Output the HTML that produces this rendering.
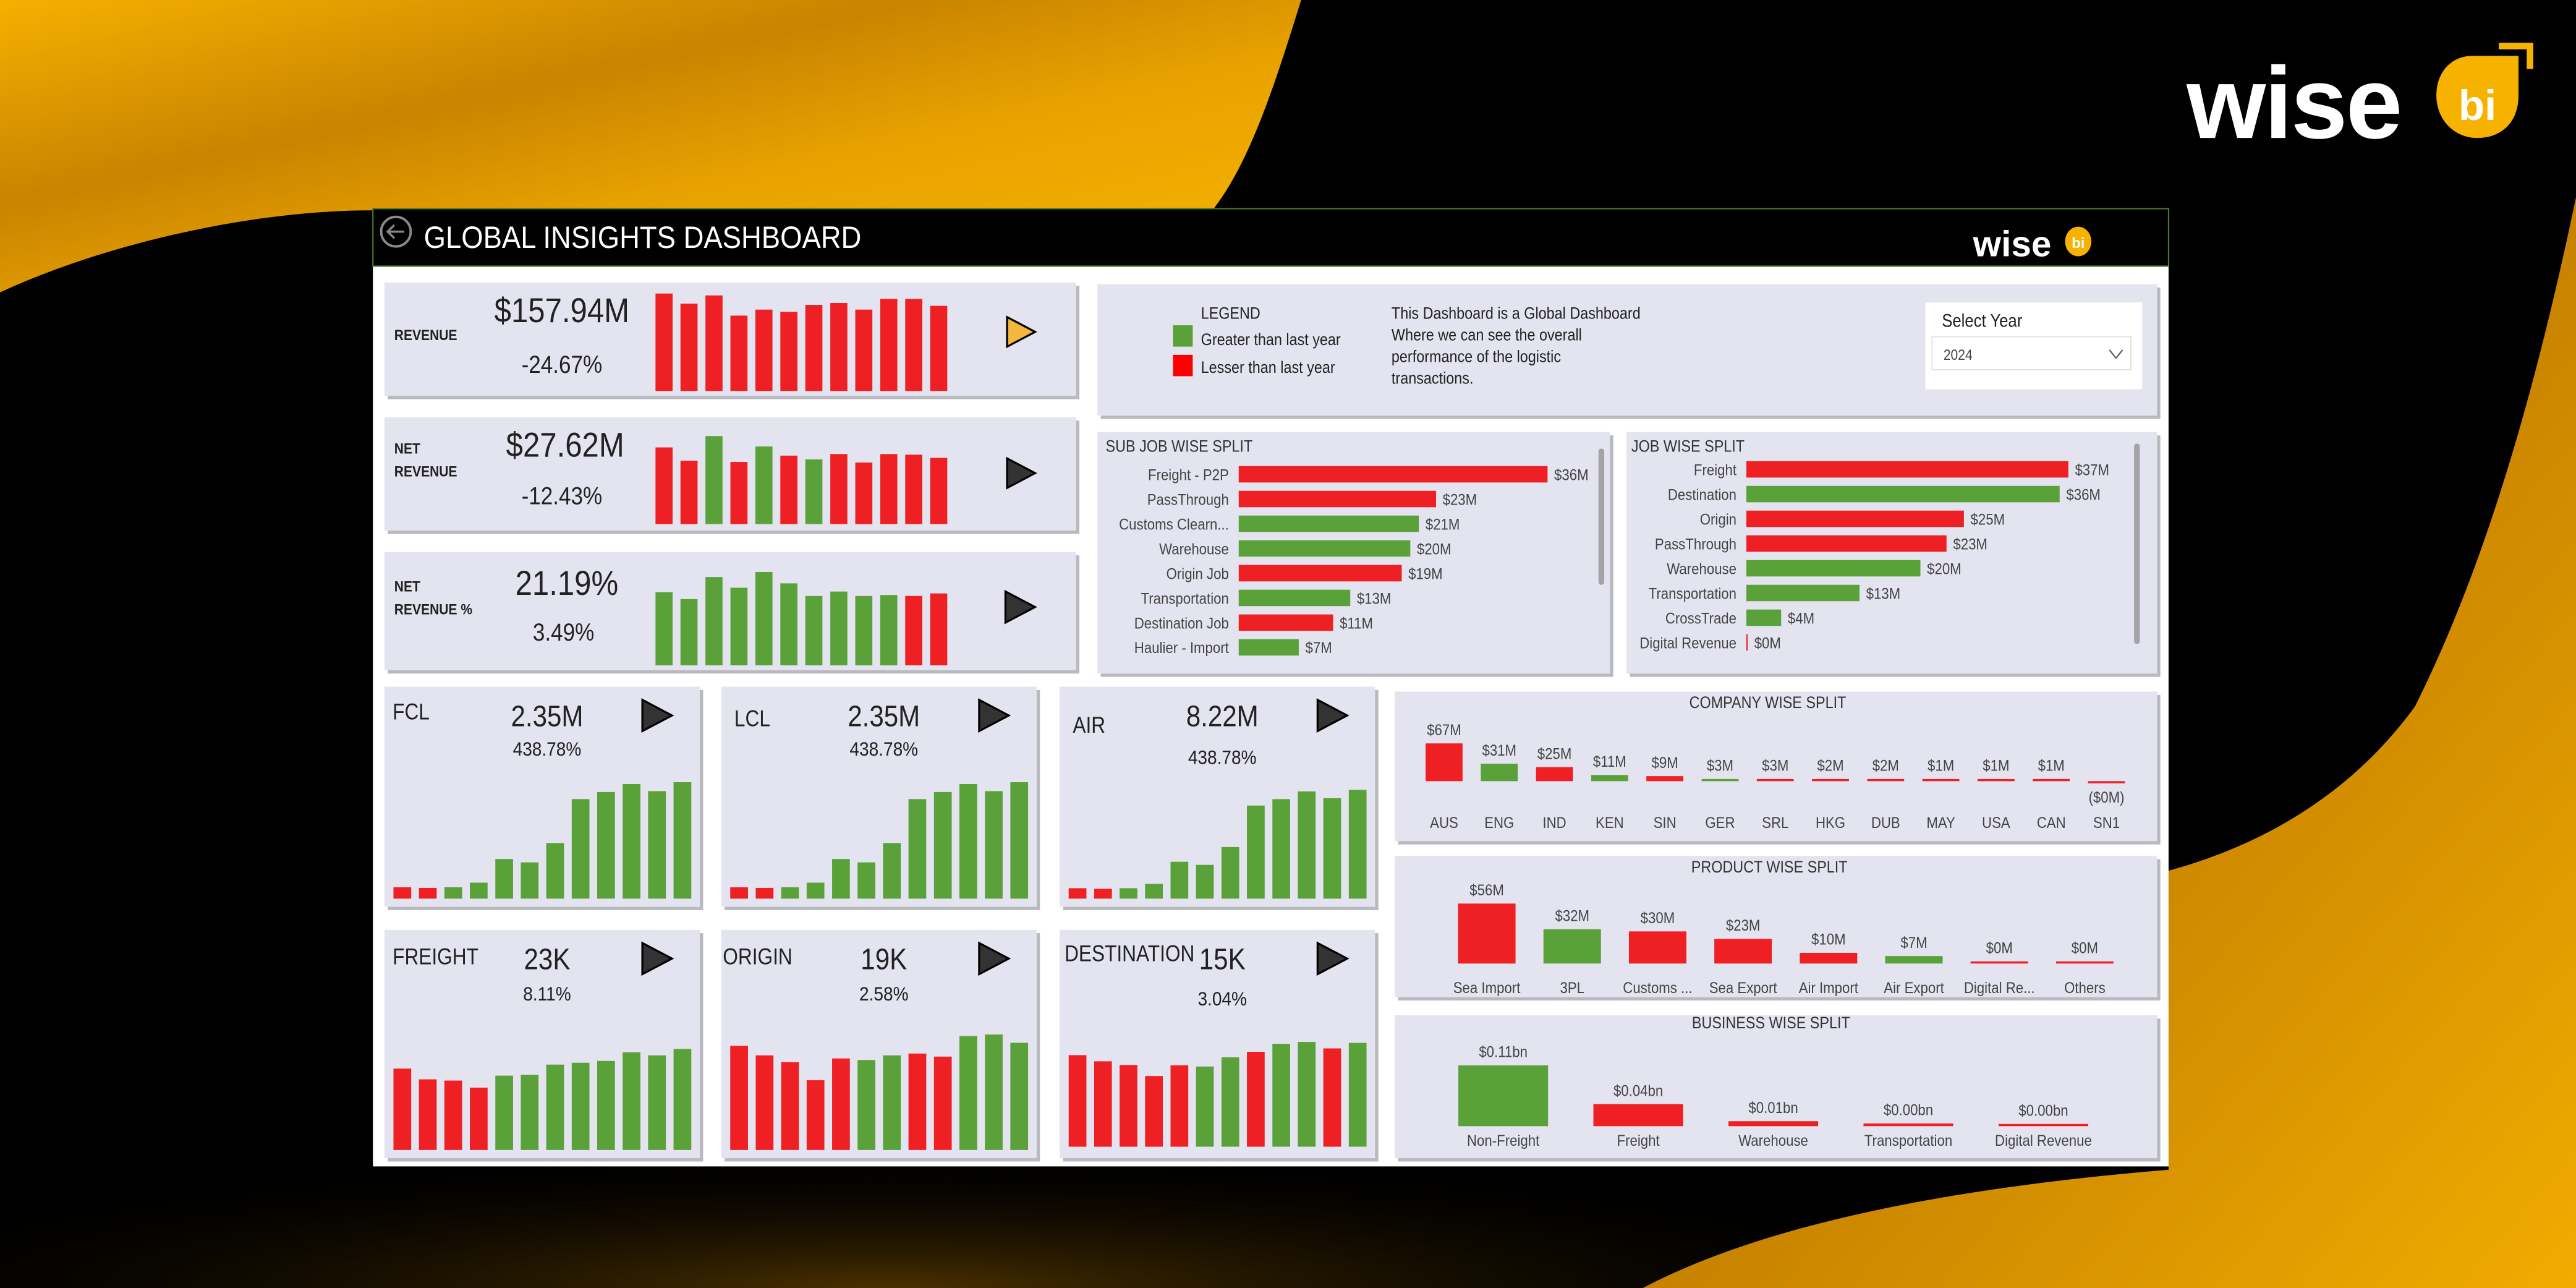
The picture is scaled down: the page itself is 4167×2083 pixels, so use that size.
<!DOCTYPE html>
<html><head><meta charset="utf-8">
<style>
html,body{margin:0;padding:0;background:#000;}
svg{display:block;}
text{font-family:"Liberation Sans",sans-serif;}
</style></head>
<body>
<svg id="root" xmlns="http://www.w3.org/2000/svg" width="4167" height="2083" viewBox="0 0 1568 784" preserveAspectRatio="none">
<defs>
<linearGradient id="gTL" x1="0" y1="0" x2="1" y2="1">
<stop offset="0" stop-color="#f5b000"/><stop offset="0.35" stop-color="#c98400"/><stop offset="0.6" stop-color="#e9a300"/><stop offset="1" stop-color="#f7b500"/></linearGradient>
<linearGradient id="gBR" x1="0" y1="0" x2="1" y2="1">
<stop offset="0" stop-color="#f5b100"/><stop offset="0.45" stop-color="#c27d00"/><stop offset="1" stop-color="#f0ac00"/></linearGradient>
<radialGradient id="gB" cx="0.45" cy="1" r="0.6">
<stop offset="0" stop-color="#4a3000"/><stop offset="1" stop-color="#000" stop-opacity="0"/></radialGradient>
</defs>
<rect width="1568" height="784" fill="#000"/>
<rect x="0" y="640" width="1200" height="144" fill="url(#gB)"/>
<path d="M0,0 L792,0 C775,55 760,100 738,128 L227,128 C150,128 60,150 0,178 Z" fill="url(#gTL)"/>
<path d="M1568,120 C1545,230 1515,340 1470,430 C1430,485 1375,515 1320,530 L1320,712 C1200,722 1080,742 1000,784 L1568,784 Z" fill="url(#gBR)"/>

<g>
<text x="1331" y="84" font-weight="bold" font-size="62" fill="#fff" style="letter-spacing:-1px">wise</text>
<path d="M1505,34 L1533,34 L1533,58 C1533,75 1522,84 1508,84 C1494,84 1483,73 1483,58 C1483,44 1492,34 1505,34 Z" fill="#f7b200"/>
<text x="1508" y="73" text-anchor="middle" font-weight="bold" font-size="26" fill="#fff">bi</text>
<path d="M1521,28 L1540,28 L1540,42" fill="none" stroke="#f7b200" stroke-width="4"/>
</g>

<rect x="227" y="127" width="1093" height="583" fill="#fff"/>
<rect x="227" y="127" width="1093" height="35" fill="#000" stroke="#4a7a2a" stroke-width="0.8"/>
<circle cx="241" cy="141" r="9" fill="none" stroke="#888" stroke-width="1.5"/>
<path d="M246,141 L236,141 M240,137 L236,141 L240,145" fill="none" stroke="#888" stroke-width="1.3"/>
<text transform="translate(258,151) scale(0.9,1)" font-size="19" fill="#fff">GLOBAL INSIGHTS DASHBOARD</text>
<g>
<text x="1201" y="156" font-weight="bold" font-size="22" fill="#fff">wise</text>
<ellipse cx="1265" cy="147" rx="8" ry="9" fill="#f7b200"/>
<text x="1265" y="151" text-anchor="middle" font-weight="bold" font-size="9" fill="#fff">bi</text>
</g>

<g id="cards"></g>
<g id="content"></g>
</svg>

<script>
// ---------- DATA ----------
const kpiRevenueValues = [309,277,303,239,258,251,273,279,258,292,292,270];
const kpiRevenueColors = ['r','r','r','r','r','r','r','r','r','r','r','r'];
const kpiNetRevenueValues = [243,201,279,197,246,217,205,222,195,222,220,210];
const kpiNetRevenueColors = ['r','r','g','r','g','r','g','r','r','r','r','r'];
const kpiNetRevPctValues = [232,210,280,246,296,260,220,234,220,223,220,228];
const kpiNetRevPctColors = ['g','g','g','g','g','g','g','g','g','g','r','r'];

const fclValues = [37,35,37,52,129,118,181,324,347,373,350,379];
const fclColors = ['r','r','g','g','g','g','g','g','g','g','g','g'];
const lclValues = [37,35,37,52,129,118,181,324,347,373,350,379];
const lclColors = ['r','r','g','g','g','g','g','g','g','g','g','g'];
const airValues = [34,32,34,48,120,110,168,303,324,349,327,354];
const airColors = ['r','r','g','g','g','g','g','g','g','g','g','g'];
const freightValues = [265,230,226,203,242,245,278,284,290,318,308,329];
const freightColors = ['r','r','r','r','g','g','g','g','g','g','g','g'];
const originValues = [339,308,286,227,298,293,308,314,304,371,376,349];
const originColors = ['r','r','r','r','r','g','g','r','r','g','g','g'];
const destinationValues = [298,278,266,230,265,261,291,309,335,341,320,338];
const destinationColors = ['r','r','r','r','r','g','g','r','g','g','r','g'];

const subJobCategories = ['Freight - P2P','PassThrough','Customs Clearn...','Warehouse','Origin Job','Transportation','Destination Job','Haulier - Import'];
const subJobValues = [36,23,21,20,19,13,11,7];
const subJobLabels = ['$36M','$23M','$21M','$20M','$19M','$13M','$11M','$7M'];
const subJobColors = ['r','r','g','g','r','g','r','g'];

const jobCategories = ['Freight','Destination','Origin','PassThrough','Warehouse','Transportation','CrossTrade','Digital Revenue'];
const jobValues = [37,36,25,23,20,13,4,0];
const jobLabels = ['$37M','$36M','$25M','$23M','$20M','$13M','$4M','$0M'];
const jobColors = ['r','g','r','r','g','g','g','r'];

const companyCategories = ['AUS','ENG','IND','KEN','SIN','GER','SRL','HKG','DUB','MAY','USA','CAN','SN1'];
const companyValues = [67,31,25,11,9,3,3,2,2,1,1,1,-0.3];
const companyLabels = ['$67M','$31M','$25M','$11M','$9M','$3M','$3M','$2M','$2M','$1M','$1M','$1M','($0M)'];
const companyColors = ['r','g','r','g','r','g','r','r','r','r','r','r','r'];

const productCategories = ['Sea Import','3PL','Customs ...','Sea Export','Air Import','Air Export','Digital Re...','Others'];
const productValues = [56,32,30,23,10,7,0,0];
const productLabels = ['$56M','$32M','$30M','$23M','$10M','$7M','$0M','$0M'];
const productColors = ['r','g','r','r','r','g','r','r'];

const businessCategories = ['Non-Freight','Freight','Warehouse','Transportation','Digital Revenue'];
const businessValues = [0.11,0.04,0.009,0.005,0.004];
const businessLabels = ['$0.11bn','$0.04bn','$0.01bn','$0.00bn','$0.00bn'];
const businessColors = ['g','r','r','r','r'];

// ---------- HELPERS ----------
const NS='http://www.w3.org/2000/svg';
const COL={r:'#ee2024',g:'#5aa13a'};
const cards=document.getElementById('cards');
const content=document.getElementById('content');
function mk(tag,parent){const e=document.createElementNS(NS,tag);parent.appendChild(e);return e;}
function txt(parent,x,y,s,size,opts){
  const t=mk('text',parent);
  const sx=(opts&&opts.sx)||0.88;
  t.setAttribute('x',0);t.setAttribute('y',0);
  t.setAttribute('transform',`translate(${x},${y}) scale(${sx},1)`);
  t.setAttribute('font-size',size);
  t.setAttribute('fill',(opts&&opts.fill)||'#222');
  if(opts&&opts.anchor)t.setAttribute('text-anchor',opts.anchor);
  if(opts&&opts.bold)t.setAttribute('font-weight','bold');
  t.textContent=s;return t;
}
function card(x,y,w,h,name){
  const sh=mk('rect',cards);
  sh.setAttribute('x',x+2);sh.setAttribute('y',y+2);sh.setAttribute('width',w);sh.setAttribute('height',h);sh.setAttribute('fill','#b9bac0');
  
  
  const r=mk('rect',cards);
  r.setAttribute('x',x);r.setAttribute('y',y);r.setAttribute('width',w);r.setAttribute('height',h);r.setAttribute('fill','#e3e4ef');
  
  
  return r;
}
function triangle(x,y,h,fill,name){
  const p=mk('path',content);
  p.setAttribute('d',`M${x},${y} L${x+h*0.95},${y+h/2} L${x},${y+h} Z`);
  p.setAttribute('fill',fill);p.setAttribute('stroke','#000');p.setAttribute('stroke-width','1.2');
  
  
}
function miniBars(values,colors,x0,pitch,bw,base,yScale,name){
  const g=mk('g',content);
  
  
  values.forEach((v,i)=>{
    const h=yScale(v);
    const r=mk('rect',g);
    r.setAttribute('x',x0+i*pitch);r.setAttribute('y',base-h);r.setAttribute('width',bw);r.setAttribute('height',h);
    r.setAttribute('fill',COL[colors[i]]);
    
    
  });
}

// ---------- KPI CARDS ----------
const kpiScale=v=>v*0.192;
card(234,172,421,69,'revenue-card');
txt(content,240,207,'REVENUE',9,{bold:true});
txt(content,342,196,'$157.94M',21,{anchor:'middle'});
txt(content,342,227,'-24.67%',15,{anchor:'middle'});
miniBars(kpiRevenueValues,kpiRevenueColors,399,15.2,10.4,238,kpiScale,'revenue-trend');
triangle(613,193,18,'#f4b63b','revenue-drill-button');

card(234,254,421,69,'net-revenue-card');
txt(content,240,276,'NET',9,{bold:true});
txt(content,240,290,'REVENUE',9,{bold:true});
txt(content,344,278,'$27.62M',21,{anchor:'middle'});
txt(content,342,307,'-12.43%',15,{anchor:'middle'});
miniBars(kpiNetRevenueValues,kpiNetRevenueColors,399,15.2,10.4,319,kpiScale,'net-revenue-trend');
triangle(613,279,18,'#333','net-revenue-drill-button');

card(234,336,421,72,'net-revenue-pct-card');
txt(content,240,360,'NET',9,{bold:true});
txt(content,240,374,'REVENUE %',9,{bold:true});
txt(content,345,362,'21.19%',21,{anchor:'middle'});
txt(content,343,390,'3.49%',15,{anchor:'middle'});
miniBars(kpiNetRevPctValues,kpiNetRevPctColors,399,15.2,10.4,405,kpiScale,'net-revenue-pct-trend');
triangle(612,360,19,'#333','net-revenue-pct-drill-button');

// ---------- LEGEND CARD ----------
card(668,173,645,80,'legend-card');
txt(content,731,194,'LEGEND',10);
let lg=mk('rect',content);lg.setAttribute('x',714);lg.setAttribute('y',198);lg.setAttribute('width',12);lg.setAttribute('height',13);lg.setAttribute('fill',COL.g);


txt(content,731,210,'Greater than last year',10);
let lr=mk('rect',content);lr.setAttribute('x',714);lr.setAttribute('y',216);lr.setAttribute('width',12);lr.setAttribute('height',13);lr.setAttribute('fill','#ff0000');


txt(content,731,227,'Lesser than last year',10);
['This Dashboard is a Global Dashboard','Where we can see the overall','performance of the logistic','transactions.'].forEach((s,i)=>txt(content,847,194+i*13.2,s,10));
let sy=mk('rect',content);sy.setAttribute('x',1172);sy.setAttribute('y',184);sy.setAttribute('width',132);sy.setAttribute('height',53);sy.setAttribute('fill','#fff');


txt(content,1182,199,'Select Year',11);
let dd=mk('rect',content);dd.setAttribute('x',1176);dd.setAttribute('y',205);dd.setAttribute('width',121);dd.setAttribute('height',20);dd.setAttribute('fill','#fff');dd.setAttribute('stroke','#ddd');dd.setAttribute('stroke-width','0.6');


txt(content,1183,219,'2024',9,{fill:'#444'});
let ch=mk('path',content);ch.setAttribute('d','M1284,213 L1288,218 L1292,213');ch.setAttribute('fill','none');ch.setAttribute('stroke','#666');ch.setAttribute('stroke-width','0.9');



// ---------- HORIZONTAL BAR CHARTS ----------
function hbar(cats,vals,labels,colors,x0,y0,pitch,pxPerUnit,name){
  const g=mk('g',content);
  
  
  vals.forEach((v,i)=>{
    const cy=y0+i*pitch;
    const w=Math.max(v*pxPerUnit,0.8);
    const r=mk('rect',g);
    r.setAttribute('x',x0);r.setAttribute('y',cy-5);r.setAttribute('width',w);r.setAttribute('height',10);r.setAttribute('fill',COL[colors[i]]);
    
    
    const c=txt(g,x0-6,cy+3.5,cats[i],9.5,{anchor:'end',fill:'#444'});
    
    
    const l=txt(g,x0+w+4,cy+3.5,labels[i],9.5,{fill:'#444'});
    
    
  });
}
card(668,263,312,147,'sub-job-card');
txt(content,673,275,'SUB JOB WISE SPLIT',10,{fill:'#333'});
hbar(subJobCategories,subJobValues,subJobLabels,subJobColors,754,288.7,15.05,188/36,'sub-job-chart');
let sb1=mk('rect',content);sb1.setAttribute('x',973);sb1.setAttribute('y',273);sb1.setAttribute('width',3.5);sb1.setAttribute('height',83);sb1.setAttribute('rx',1.7);sb1.setAttribute('fill','#a4a4a8');



card(990,263,323,147,'job-card');
txt(content,993,275,'JOB WISE SPLIT',10,{fill:'#333'});
hbar(jobCategories,jobValues,jobLabels,jobColors,1063,285.7,15.05,196/37,'job-chart');
let sb2=mk('rect',content);sb2.setAttribute('x',1299);sb2.setAttribute('y',270);sb2.setAttribute('width',3.5);sb2.setAttribute('height',122);sb2.setAttribute('rx',1.7);sb2.setAttribute('fill','#a4a4a8');



// ---------- SMALL TREND CARDS ----------
const smallScale=v=>v*0.187;
function smallCard(x,y,h,label,val,pct,vals,cols,base,name,lx,ly,vy,py){
  card(x,y,192,h,name+'-card');
  txt(content,lx,ly,label,14,{fill:'#222',sx:0.85});
  txt(content,x+99,vy,val,18,{anchor:'middle'});
  txt(content,x+99,py,pct,12,{anchor:'middle'});
  triangle(x+157,vy-16,19,'#333',name+'-drill-button');
  miniBars(vals,cols,x+5.5,15.5,10.8,base,smallScale,name+'-trend');
}
smallCard(234,418,134,'FCL','2.35M','438.78%',fclValues,fclColors,547,'fcl',239,438,442,460);
smallCard(439,418,134,'LCL','2.35M','438.78%',lclValues,lclColors,547,'lcl',447,442,442,460);
smallCard(645,418,134,'AIR','8.22M','438.78%',airValues,airColors,547,'air',653,446,442,465);
smallCard(234,566,139,'FREIGHT','23K','8.11%',freightValues,freightColors,700,'freight',239,587,590,609);
smallCard(439,566,139,'ORIGIN','19K','2.58%',originValues,originColors,700,'origin',440,587,590,609);
smallCard(645,566,139,'DESTINATION','15K','3.04%',destinationValues,destinationColors,698,'destination',648,585,590,612);

// ---------- COLUMN CHARTS ----------
function colChart(cats,vals,labels,colors,x0,pitch,bw,base,pxPerUnit,catY,name,fs){
  const g=mk('g',content);
  
  
  vals.forEach((v,i)=>{
    const cx=x0+i*pitch;
    let h=Math.abs(v)*pxPerUnit;
    const hh=Math.max(h,1.3);
    const r=mk('rect',g);
    const top=v>=0?base-hh:base;
    r.setAttribute('x',cx-bw/2);r.setAttribute('y',top);r.setAttribute('width',bw);r.setAttribute('height',hh);r.setAttribute('fill',COL[colors[i]]);
    
    
    const ly=v>=0?top-5:base+13;
    const l=txt(g,cx,ly,labels[i],fs,{anchor:'middle',fill:'#444'});
    
    
    const c=txt(g,cx,catY,cats[i],fs,{anchor:'middle',fill:'#444'});
    
    
  });
}
card(849,421,464,91,'company-card');
txt(content,1076,431,'COMPANY WISE SPLIT',10,{anchor:'middle',fill:'#333'});
colChart(companyCategories,companyValues,companyLabels,companyColors,879,33.6,22.5,475.5,23/67,504,'company-chart',9.5);

card(849,521,464,86,'product-card');
txt(content,1077,531,'PRODUCT WISE SPLIT',10,{anchor:'middle',fill:'#333'});
colChart(productCategories,productValues,productLabels,productColors,905,52,35,586.5,36.5/56,604.5,'product-chart',9.5);

card(849,618,464,87,'business-card');
txt(content,1078,626,'BUSINESS WISE SPLIT',10,{anchor:'middle',fill:'#333'});
colChart(businessCategories,businessValues,businessLabels,businessColors,915,82.2,54.6,685.5,37/0.11,697.5,'business-chart',9.5);
</script>
</body></html>
